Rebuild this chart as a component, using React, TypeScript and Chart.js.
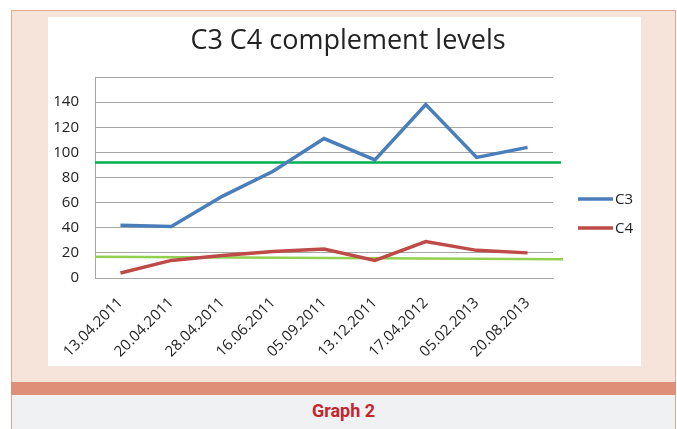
import React, { useEffect, useRef } from 'react';
import { Chart, registerables } from 'chart.js';

Chart.register(...registerables);

const categories = [
  '13.04.2011', '20.04.2011', '28.04.2011', '16.06.2011', '05.09.2011',
  '13.12.2011', '17.04.2012', '05.02.2013', '20.08.2013',
];
const seriesNames = ['C3', 'C4'];
const c3Values = [42, 41, 65, 85, 111, 94, 138, 96, 104];
const c4Values = [4, 14, 18, 21, 23, 14, 29, 22, 20];
// reference lines: [value at left edge, value at right end]
const c3Reference = [92, 92];
const c4Reference = [17, 15];
const yMin = 0;
const yMax = 160;
const yStep = 20;

const FONT = "'Open Sans', sans-serif";
const SERIES_COLORS = ['#4A7EBB', '#BE4B48'];

const refLinesPlugin = {
  id: 'refLines',
  beforeDatasetsDraw(chart: any) {
    const { ctx, chartArea, scales } = chart;
    const y = scales.y;
    const draw = (vals: number[], color: string, width: number, ext: number) => {
      ctx.save();
      ctx.strokeStyle = color;
      ctx.lineWidth = width;
      ctx.beginPath();
      ctx.moveTo(chartArea.left, y.getPixelForValue(vals[0]));
      ctx.lineTo(chartArea.right + ext, y.getPixelForValue(vals[1]));
      ctx.stroke();
      ctx.restore();
    };
    draw(c3Reference, '#00B050', 2.5, 8);
    draw(c4Reference, '#92D050', 2.5, 10);
  },
};

const sideLegendPlugin = {
  id: 'sideLegend',
  afterDraw(chart: any) {
    const { ctx, chartArea } = chart;
    const cy = (chartArea.top + chartArea.bottom) / 2;
    chart.data.datasets.forEach((ds: any, i: number) => {
      const yy = cy + 21.5 + i * 29;
      const x0 = chartArea.right + 25;
      ctx.save();
      ctx.strokeStyle = ds.borderColor;
      ctx.lineWidth = 3.5;
      ctx.beginPath();
      ctx.moveTo(x0, yy);
      ctx.lineTo(x0 + 35, yy);
      ctx.stroke();
      ctx.fillStyle = '#222';
      ctx.font = `15px ${FONT}`;
      ctx.textBaseline = 'middle';
      ctx.textAlign = 'left';
      ctx.fillText(ds.label, x0 + 37, yy + 1);
      ctx.restore();
    });
  },
};

export default function App() {
  const canvasRef = useRef<HTMLCanvasElement>(null);

  useEffect(() => {
    if (!canvasRef.current) return;
    const chart = new Chart(canvasRef.current, {
      type: 'line',
      data: {
        labels: categories,
        datasets: [
          {
            label: seriesNames[0],
            data: c3Values,
            borderColor: SERIES_COLORS[0],
            backgroundColor: SERIES_COLORS[0],
            borderWidth: 3.5,
            pointRadius: 0,
            tension: 0,
          },
          {
            label: seriesNames[1],
            data: c4Values,
            borderColor: SERIES_COLORS[1],
            backgroundColor: SERIES_COLORS[1],
            borderWidth: 3.5,
            pointRadius: 0,
            tension: 0,
          },
        ],
      },
      options: {
        responsive: false,
        animation: false,
        layout: { padding: { left: 7, right: 0, top: 0, bottom: 2 } },
        plugins: {
          legend: { display: false },
          tooltip: { enabled: false },
          title: {
            display: true,
            text: 'C3 C4 complement levels',
            color: '#222',
            font: { family: FONT, size: 27, weight: 'normal' },
            padding: { top: 8, bottom: 19.6 },
          },
        },
        scales: {
          x: {
            offset: true,
            grid: { display: false },
            border: { display: true, color: '#A6A6A6' },
            ticks: {
              minRotation: 45,
              maxRotation: 45,
              autoSkip: false,
              padding: 8,
              color: '#222',
              font: { family: FONT, size: 15 },
            },
            afterFit: (s: any) => {
              s.paddingLeft = 0;
              s.paddingRight = 0;
              s.height = 86;
            },
          },
          y: {
            min: yMin,
            max: yMax,
            ticks: {
              stepSize: yStep,
              padding: 16,
              color: '#222',
              font: { family: FONT, size: 15 },
              callback: (v: any) => (v === yMax ? '' : v),
            },
            grid: { color: '#A6A6A6', drawTicks: false },
            border: { color: '#A6A6A6' },
            afterFit: (s: any) => {
              s.width = 40;
            },
          },
          legendSpace: {
            type: 'linear',
            position: 'right',
            display: true,
            grid: { display: false },
            border: { display: false },
            ticks: { display: false },
            afterFit: (s: any) => {
              s.width = 88;
            },
          },
        },
      } as any,
      plugins: [refLinesPlugin, sideLegendPlugin],
    });
    return () => chart.destroy();
  }, []);

  return (
    <div
      style={{
        position: 'absolute',
        left: 0,
        top: 0,
        width: 677,
        height: 429,
        background: '#fff',
        overflow: 'hidden',
      }}
    >
      <div
        style={{
          position: 'absolute',
          left: 11,
          top: 10,
          width: 665,
          height: 419,
          background: '#F6E4DB',
          border: '1px solid #E9A58C',
          borderBottom: 'none',
          boxSizing: 'border-box',
        }}
      />
      <div
        style={{
          position: 'absolute',
          left: 48,
          top: 17,
          width: 593,
          height: 349,
          background: '#fff',
        }}
      >
        <canvas ref={canvasRef} width={593} height={349} style={{ display: 'block' }} />
      </div>
      <div
        style={{
          position: 'absolute',
          left: 11,
          top: 382,
          width: 665,
          height: 13,
          background: '#DF8E77',
        }}
      />
      <div
        style={{
          position: 'absolute',
          left: 11,
          top: 395,
          width: 665,
          height: 34,
          background: '#F0F1F3',
          borderLeft: '1px solid #E9A58C',
          borderRight: '1px solid #E9A58C',
          boxSizing: 'border-box',
          textAlign: 'center',
          fontFamily: "Roboto, 'Liberation Sans', sans-serif",
          fontWeight: 'bold',
          fontSize: 18,
          lineHeight: '32px',
          color: '#C1272D',
        }}
      >
        Graph 2
      </div>
    </div>
  );
}
